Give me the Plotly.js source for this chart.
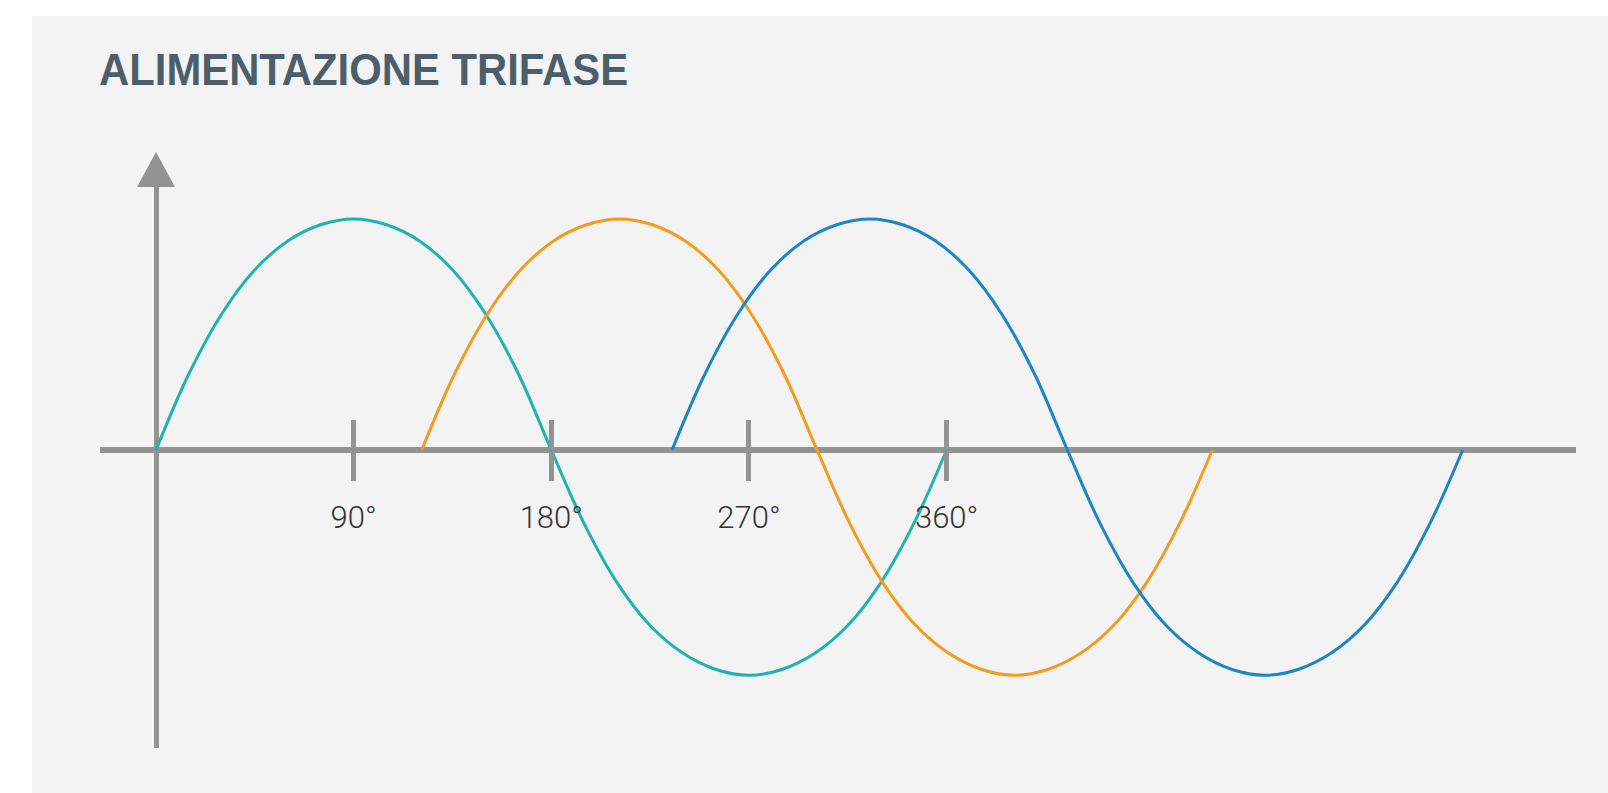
<!DOCTYPE html>
<html>
<head>
<meta charset="utf-8">
<script src="https://cdn.plot.ly/plotly-3.0.1.min.js"></script>
<style>
  html, body { margin: 0; padding: 0; background: #ffffff; width: 1608px; height: 793px; overflow: hidden; }
  #chart { position: absolute; left: 32px; top: 16px; width: 1576px; height: 777px; }
  #chart .gtitle { transform-box: fill-box; transform-origin: 0% 50%; transform: scaleX(0.93); }
</style>
</head>
<body>
<div id="chart"></div>
<script>
// Values (phase in degrees, amplitude relative to the positive peak)
const titleText = "ALIMENTAZIONE TRIFASE";
const tickValues = [90, 180, 270, 360];
const tickLabels = ["90°", "180°", "270°", "360°"];

// amplitude samples every 15° along each wave
const waveY = [0, 0.33, 0.59, 0.78, 0.905, 0.975, 1, 0.975, 0.905, 0.78, 0.59, 0.33, 0,
               -0.32, -0.575, -0.76, -0.88, -0.95, -0.975, -0.95, -0.88, -0.76, -0.575, -0.32, 0];

const phase1X = [0, 15, 30, 45, 60, 75, 90, 105, 120, 135, 150, 165, 180,
                 195, 210, 225, 240, 255, 270, 285, 300, 315, 330, 345, 360];
const phase2X = [121, 136, 151, 166, 181, 196, 211, 226, 241, 256, 271, 286, 301,
                 316, 331, 346, 361, 376, 391, 406, 421, 436, 451, 466, 481];
const phase3X = [235, 250, 265, 280, 295, 310, 325, 340, 355, 370, 385, 400, 415,
                 430, 445, 460, 475, 490, 505, 520, 535, 550, 565, 580, 595];

const colors = ["#1fb3ae", "#f29c1f", "#1b86c6"];
const axisGray = "#939393";

const xRange = [-25.5, 646.6];
const yRange = [-1.29, 1.1385];
const axisPos = 298 / 561;

function wave(x, y, c) {
  return { x: x, y: y, type: "scatter", mode: "lines",
           line: { color: c, width: 3, shape: "spline", smoothing: 1 },
           hoverinfo: "skip", showlegend: false };
}

const data = [
  wave(phase1X, waveY, colors[0]),
  wave(phase2X, waveY, colors[1]),
  wave(phase3X, waveY, colors[2])
];

const layout = {
  width: 1576, height: 777,
  paper_bgcolor: "#f3f3f3", plot_bgcolor: "rgba(0,0,0,0)",
  margin: { l: 68, r: 32, t: 171, b: 45, pad: 0 },
  showlegend: false,
  title: {
    text: titleText,
    xref: "container", yref: "container",
    x: 67 / 1576, xanchor: "left",
    y: 1 - 53 / 777, yanchor: "middle",
    font: { family: "Liberation Sans, Arial, sans-serif",
            size: 45, weight: 700, color: "#4d5e6b" }
  },
  xaxis: {
    range: xRange, showgrid: false, showline: false,
    zeroline: true, zerolinecolor: axisGray, zerolinewidth: 5,
    anchor: "free", position: axisPos,
    tickmode: "array", tickvals: tickValues, ticktext: tickLabels,
    ticks: "outside", ticklen: 30, tickwidth: 5, tickcolor: axisGray,
    ticklabelstandoff: 10,
    tickfont: { family: "Roboto, sans-serif", size: 31, weight: 300, color: "#333333" },
    fixedrange: true
  },
  xaxis2: {
    overlaying: "x", matches: "x", range: xRange,
    showgrid: false, showline: false, zeroline: false,
    anchor: "free", position: axisPos, side: "bottom",
    tickmode: "array", tickvals: tickValues,
    ticks: "inside", ticklen: 30, tickwidth: 5, tickcolor: axisGray,
    showticklabels: false, fixedrange: true
  },
  yaxis: {
    range: yRange, showgrid: false, showline: false, showticklabels: false, ticks: "",
    zeroline: true, zerolinecolor: axisGray, zerolinewidth: 6,
    fixedrange: true
  },
  shapes: [
    { type: "path", xref: "x", yref: "paper",
      path: "M -8.65,1 L 8.65,1 L 0,1.0624 Z",
      fillcolor: axisGray, line: { width: 0 } }
  ]
};

// invisible trace so that the second (upper tick) axis is drawn
data.push({ x: [0], y: [0], xaxis: "x2", yaxis: "y", mode: "markers",
            marker: { opacity: 0 }, hoverinfo: "skip", showlegend: false });

Plotly.newPlot("chart", data, layout, { displayModeBar: false, staticPlot: true });
</script>
</body>
</html>
